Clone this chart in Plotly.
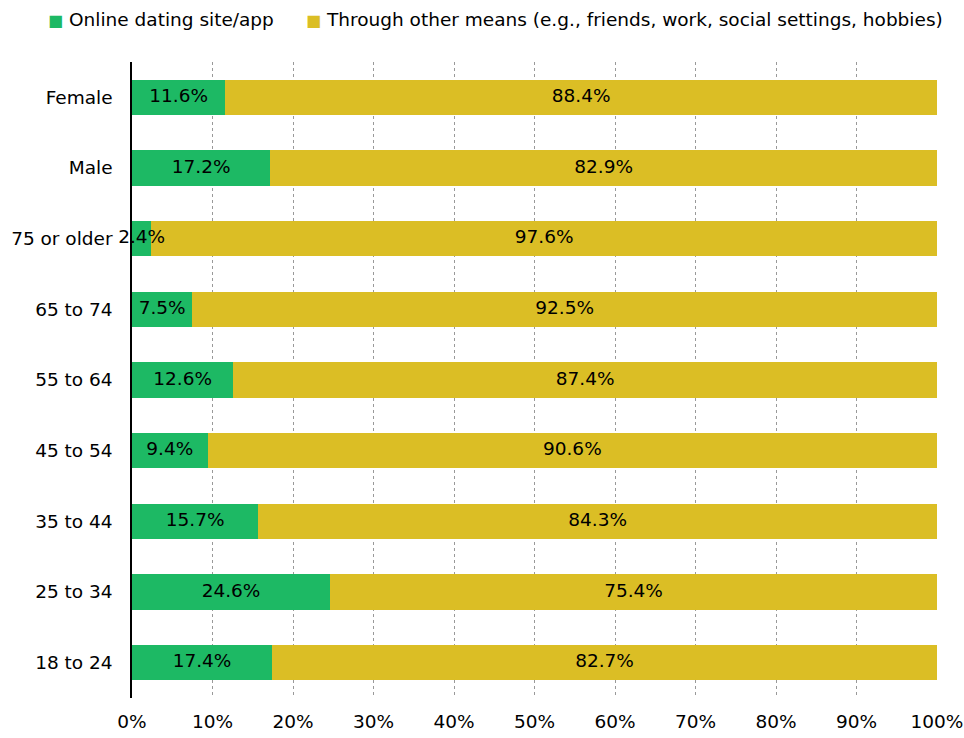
import plotly.graph_objects as go

categories = ["18 to 24", "25 to 34", "35 to 44", "45 to 54", "55 to 64", "65 to 74", "75 or older", "Male", "Female"]
online = [17.4, 24.6, 15.7, 9.4, 12.6, 7.5, 2.4, 17.2, 11.6]
other = [82.7, 75.4, 84.3, 90.6, 87.4, 92.5, 97.6, 82.9, 88.4]
series_names = ["Online dating site/app", "Through other means (e.g., friends, work, social settings, hobbies)"]
colors = ["#1DB964", "#DBBE25"]
tick_vals = [0, 10, 20, 30, 40, 50, 60, 70, 80, 90, 100]
tick_text = [f"{v}%" for v in tick_vals]

FONT = "DejaVu Sans, sans-serif"
FS = 18.5

fig = go.Figure()
for name, vals, col in zip(series_names, [online, other], colors):
    fig.add_trace(go.Bar(
        y=categories, x=vals, name=name, orientation="h",
        marker=dict(color=col, line=dict(width=0)),
        textposition="none", hoverinfo="x+y+name",
        width=0.5, showlegend=False,
    ))

# value labels centred on the visible part of each segment
mid_online = [v / 2 for v in online]
mid_other = [min(a + b, 100) / 2 + a / 2 for a, b in zip(online, other)]
for mids, vals in [(mid_online, online), (mid_other, other)]:
    fig.add_trace(go.Scatter(
        x=mids, y=categories, mode="text",
        text=[f"{v:.1f}%" for v in vals],
        textposition="middle center",
        textfont=dict(color="black", size=FS, family=FONT),
        cliponaxis=False, showlegend=False, hoverinfo="skip",
    ))

# legend built as annotations
legend_x = [(46 - 132) / 805, (304 - 132) / 805]
for name, col, lx in zip(series_names, colors, legend_x):
    fig.add_annotation(
        x=lx, y=1 + (62 - 20) / (738 - 62 - 40), xref="paper", yref="paper",
        xanchor="left", yanchor="middle",
        text=f"<span style='color:{col};font-size:16px'>■</span>&nbsp;{name}", showarrow=False,
        font=dict(family=FONT, size=18.5, color="black"),
    )

fig.update_layout(
    barmode="stack",
    width=964, height=738,
    margin=dict(l=132, r=27, t=62, b=40, autoexpand=False),
    plot_bgcolor="white", paper_bgcolor="white",
    font=dict(family=FONT, size=FS, color="black"),
    showlegend=False,
    xaxis=dict(range=[0, 100], tickvals=tick_vals, ticktext=tick_text,
               showgrid=True, gridcolor="#999999", griddash="dot", gridwidth=1.2,
               zeroline=False, showline=False, ticks="", ticklabelstandoff=10,
               automargin=False),
    yaxis=dict(range=[-0.5, 8.5], showline=True, linecolor="black", linewidth=1.5,
               showgrid=False, ticks="", ticklabelstandoff=14, zeroline=False,
               automargin=False),
)

fig.write_html("out.html", config={"displayModeBar": False},
               post_script="document.body.style.margin='0';document.body.style.overflow='hidden';")
